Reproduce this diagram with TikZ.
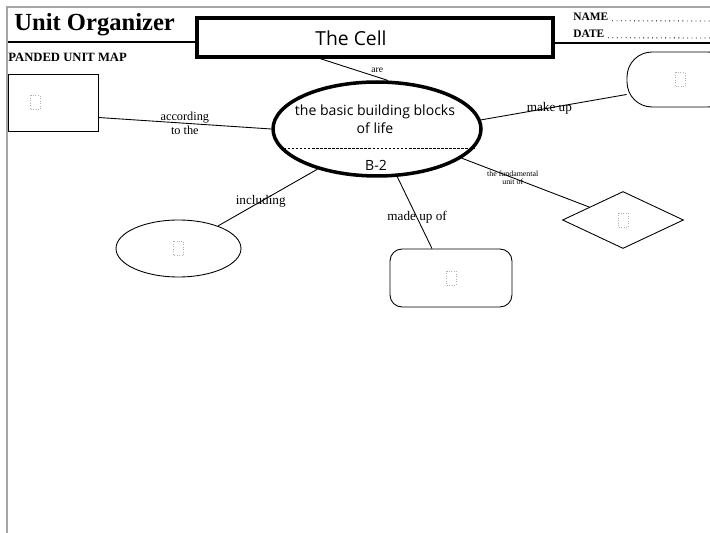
\documentclass[tikz,border=0pt]{standalone}
\usepackage{fontspec}
\setmainfont{Liberation Serif}
\newfontfamily\handfont{Open Sans}
\usetikzlibrary{shapes.geometric,calc,positioning}

\begin{document}
\begin{tikzpicture}[x=0.02cm,y=-0.02cm,
  topic/.style={rectangle,draw,line width=1.8pt,minimum width=7.12cm,minimum height=0.78cm},
  hub/.style={ellipse,draw,line width=2pt,minimum width=4.16cm,minimum height=1.88cm,inner sep=0pt},
  leaf/.style={draw,line width=0.5pt,inner sep=0pt},
  link/.style={line width=0.5pt},
  lbl/.style={font=\fontsize{7.5}{8}\selectfont,inner sep=1pt,align=center},
  hand/.style={font=\handfont\fontsize{8}{10.2}\selectfont,align=center,inner sep=0pt},
  ph/.style={densely dotted,gray!60,line width=0.4pt}
]
  \useasboundingbox (0,0) rectangle (710,533);
  \clip (0,0) rectangle (710,533);
  % page frame and header
  \coordinate (tl) at (7,7);
  \draw[gray!70,line width=0.8pt] (710,7) -- (tl) -- (7,533);
  \node[anchor=west,font=\fontsize{14}{15}\selectfont\bfseries,inner sep=0pt] (org) at (14,25) {Unit Organizer};
  \node[topic] (cell) at (375,37.5) {};
  \node[font=\handfont\fontsize{11}{13}\selectfont] (celltxt) at (351,38) {The Cell};
  \coordinate (rule l) at (8,42);
  \coordinate (rule r) at (710,43);
  \draw[line width=0.9pt] (rule l) -- (rule l -| cell.west);
  \draw[line width=0.9pt] (cell.east |- rule r) -- (rule r);
  \node[anchor=west,font=\fontsize{6.5}{7}\selectfont\bfseries,inner sep=0pt] (name) at (573,17) {NAME};
  \node[anchor=west,font=\fontsize{6.5}{7}\selectfont\bfseries,inner sep=0pt] (date) at (573,34) {DATE};
  \coordinate (name end) at (710,21);
  \coordinate (date end) at (710,38);
  \draw[dotted,line width=0.5pt] ([xshift=2pt]name.base east) -- (name end);
  \draw[dotted,line width=0.5pt] ([xshift=2pt]date.base east) -- (date end);
  \node[anchor=west,font=\fontsize{7.2}{8}\selectfont\bfseries,inner sep=0pt] (map) at (8,57) {PANDED UNIT MAP};

  % main idea
  \node[hub] (cent) at (377,129) {};
  \node[hand] (def) at (375,119) {the basic building blocks\\of life};
  \draw[densely dashed,dash pattern=on 1.5pt off 0.8pt,line width=0.4pt] (cent.191) -- (cent.-11);
  \node[hand] (code) at (376,165) {B-2};

  % surrounding nodes
  \node[leaf,minimum width=1.8cm,minimum height=1.14cm] (lbox) at (53,102.5) {};
  \node[leaf,rounded corners=0.5cm,minimum width=2.12cm,minimum height=1.1cm] (rstad) at (680,79.5) {};
  \node[leaf,diamond,minimum width=2.42cm,minimum height=1.14cm] (diam) at (623,220) {};
  \node[leaf,rounded corners=0.24cm,minimum width=2.44cm,minimum height=1.16cm] (rrect) at (451,278) {};
  \node[leaf,ellipse,minimum width=2.5cm,minimum height=1.14cm] (lell) at (178.5,248.5) {};
  \foreach \n/\dx in {lbox/-18,rstad/0,diam/0,rrect/0,lell/0}
    \draw[ph] ([shift={(\dx-5,-7)}]\n.center) rectangle ++(10,14);

  % links
  \draw[link] ([xshift=-1.1cm]cell.south) -- (cent.77) node[lbl,pos=0.84,above=1pt,font=\fontsize{5.5}{6}\selectfont]{are};
  \draw[link] ([yshift=-0.3cm]lbox.east) -- (cent.west) node[lbl,midway,font=\fontsize{7}{7.5}\selectfont]{according\\to the};
  \draw[link] (cent.5) -- ([yshift=-0.3cm]rstad.west) node[lbl,pos=0.47]{make up};
  \draw[link] (cent.-19) -- (diam) node[lbl,pos=0.4,font=\fontsize{4.5}{5}\selectfont]{the fundamental\\unit of};
  \draw[link] (cent.-67) -- ([xshift=-0.38cm]rrect.north) node[lbl,pos=0.57]{made up of};
  \draw[link] (cent.214) -- (lell) node[lbl,pos=0.57]{including};
\end{tikzpicture}
\end{document}
